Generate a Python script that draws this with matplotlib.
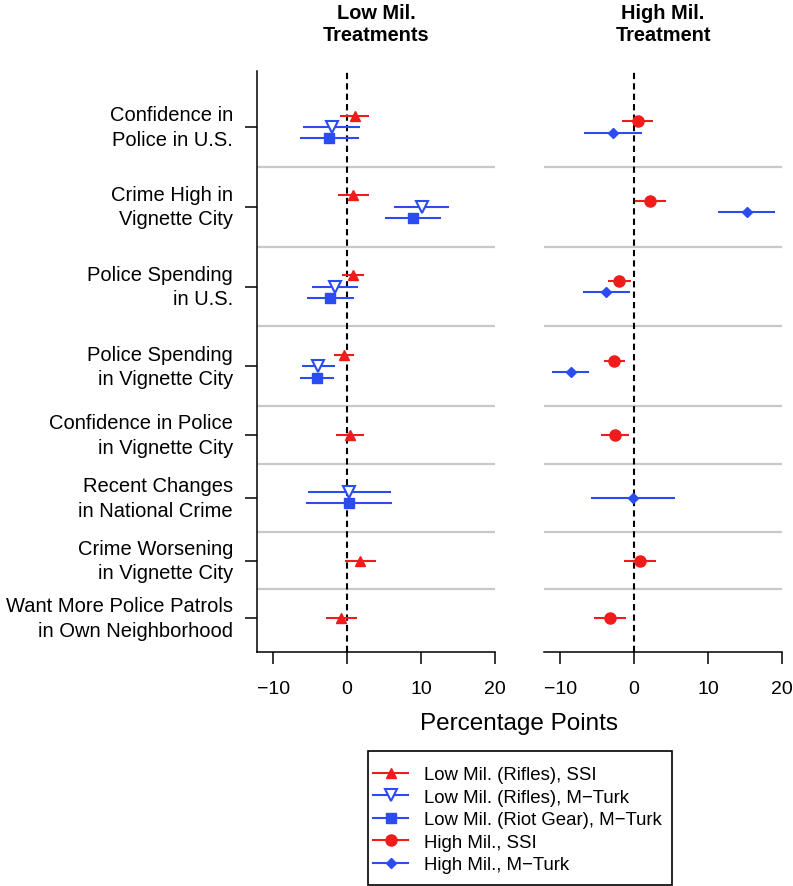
import numpy as np
import matplotlib.pyplot as plt
from matplotlib.lines import Line2D
from matplotlib.patches import Rectangle

plt.rcParams['font.family'] = ['Liberation Sans', 'DejaVu Sans']

nan = np.nan

# outcome rows (top to bottom)
outcomes = ['Confidence in\nPolice in U.S.',
            'Crime High in\nVignette City',
            'Police Spending\nin U.S.',
            'Police Spending\nin Vignette City',
            'Confidence in Police\nin Vignette City',
            'Recent Changes\nin National Crime',
            'Crime Worsening\nin Vignette City',
            'Want More Police Patrols\nin Own Neighborhood']

# Low Mil. panel: estimate and half-width of interval
low_rifles_ssi = [1.0, 0.8, 0.8, -0.4, 0.35, nan, 1.8, -0.8]
low_rifles_ssi_err = [2.0, 2.1, 1.5, 1.35, 1.9, nan, 2.15, 2.1]
low_rifles_mturk = [-2.1, 10.1, -1.7, -3.9, nan, 0.3, nan, nan]
low_rifles_mturk_err = [3.9, 3.7, 3.1, 2.25, nan, 5.6, nan, nan]
low_riot_mturk = [-2.4, 8.9, -2.3, -4.1, nan, 0.25, nan, nan]
low_riot_mturk_err = [4.0, 3.85, 3.2, 2.3, nan, 5.85, nan, nan]

# High Mil. panel
high_ssi = [0.45, 2.2, -2.0, -2.7, -2.6, nan, 0.8, -3.25]
high_ssi_err = [2.1, 2.15, 1.6, 1.4, 1.85, nan, 2.15, 2.15]
high_mturk = [-2.85, 15.2, -3.75, -8.6, nan, -0.2, nan, nan]
high_mturk_err = [3.9, 3.8, 3.15, 2.5, nan, 5.7, nan, nan]

red = '#f01c1c'
blue = '#2a4cf0'

left_series = [
    (low_rifles_ssi, low_rifles_ssi_err, 'Low Mil. (Rifles), SSI',
     dict(color=red, marker='^', ms=7.7, mfc=red)),
    (low_rifles_mturk, low_rifles_mturk_err, 'Low Mil. (Rifles), M\u2212Turk',
     dict(color=blue, marker='v', ms=8, mfc='white', mew=1.5)),
    (low_riot_mturk, low_riot_mturk_err, 'Low Mil. (Riot Gear), M\u2212Turk',
     dict(color=blue, marker='s', ms=6.7, mfc=blue)),
]
right_series = [
    (high_ssi, high_ssi_err, 'High Mil., SSI',
     dict(color=red, marker='o', ms=8, mfc=red)),
    (high_mturk, high_mturk_err, 'High Mil., M\u2212Turk',
     dict(color=blue, marker='D', ms=4.6, mfc=blue)),
]

n_rows = len(outcomes)


def count(series, r):
    return sum(0 if np.isnan(s[0][r]) else 1 for s in series)


# row layout: one slot per series plus fixed padding
n_max = [max(count(left_series, r), count(right_series, r)) for r in range(n_rows)]
heights = [4.06 + n for n in n_max]
edges = np.concatenate([[0], np.cumsum(heights)])
centers = (edges[:-1] + edges[1:]) / 2

fig = plt.figure(figsize=(7.93, 8.87), dpi=100)
W, H = 793, 887
axL = fig.add_axes([257 / W, 1 - 652.7 / H, 238 / W, 580.7 / H])
axR = fig.add_axes([544 / W, 1 - 652.7 / H, 238 / W, 580.7 / H])


def draw(ax, series):
    for r in range(n_rows):
        present = [s for s in series if not np.isnan(s[0][r])]
        k = len(present)
        for i, (est, err, lab, st) in enumerate(present):
            y = centers[r] + (i - (k - 1) / 2)
            ax.errorbar(est[r], y, xerr=err[r], fmt='none', ecolor=st['color'],
                        elinewidth=1.5, capsize=0, zorder=3)
            ax.plot(est[r], y, linestyle='none', marker=st['marker'],
                    ms=st['ms'], mfc=st['mfc'], mec=st['color'],
                    mew=st.get('mew', 1.0), zorder=4)
    for e in edges[1:-1]:
        ax.axhline(e, color='#c8c8c8', lw=1.6, zorder=1)
    ax.axvline(0, color='black', lw=1.5, ls=(0, (3, 2)), zorder=2)
    ax.set_xlim(-12.2, 20)
    ax.set_ylim(edges[-1] + 0.46, -1.41)
    ax.set_xticks([-10, 0, 10, 20])
    ax.tick_params(axis='x', length=8.6, width=1.1, labelsize=14, pad=12)
    for sp in ['top', 'right']:
        ax.spines[sp].set_visible(False)
    ax.spines['bottom'].set_linewidth(1.1)


draw(axL, left_series)
draw(axR, right_series)

axL.set_yticks(centers)
axL.set_yticklabels(outcomes, fontsize=14.5, va='center', linespacing=1.37)
axL.tick_params(axis='y', length=8.6, width=1.1, pad=8.6)
axL.spines['left'].set_linewidth(1.1)

axR.spines['left'].set_visible(False)
axR.set_yticks([])

axL.set_title('Low Mil.\nTreatments', fontsize=14.4, fontweight='bold', pad=22.5,
              linespacing=1.2)
axR.set_title('High Mil.\nTreatment', fontsize=14.4, fontweight='bold', pad=22.5,
              linespacing=1.2)

fig.text(519.5 / W, 1 - 730 / H, 'Percentage Points', ha='center', va='baseline',
         fontsize=17.5)

handles = []
labels = []
for est, err, lab, st in left_series + right_series:
    handles.append(Line2D([], [], color=st['color'], lw=1.5, marker=st['marker'],
                          ms=st['ms'], mfc=st['mfc'], mec=st['color'],
                          mew=st.get('mew', 1.0)))
    labels.append(lab)

leg = fig.legend(handles, labels, loc='upper left',
                 bbox_to_anchor=(373 / W, 1 - 767 / H), borderaxespad=0,
                 frameon=False, fontsize=13.4, handlelength=1.9,
                 handletextpad=0.85, labelspacing=0.3, borderpad=0)
fig.patches.append(Rectangle((368 / W, 1 - 886 / H), 304 / W, 134 / H,
                             transform=fig.transFigure, fill=False,
                             edgecolor='black', lw=1.2))

fig.savefig('out.png', dpi=100)
